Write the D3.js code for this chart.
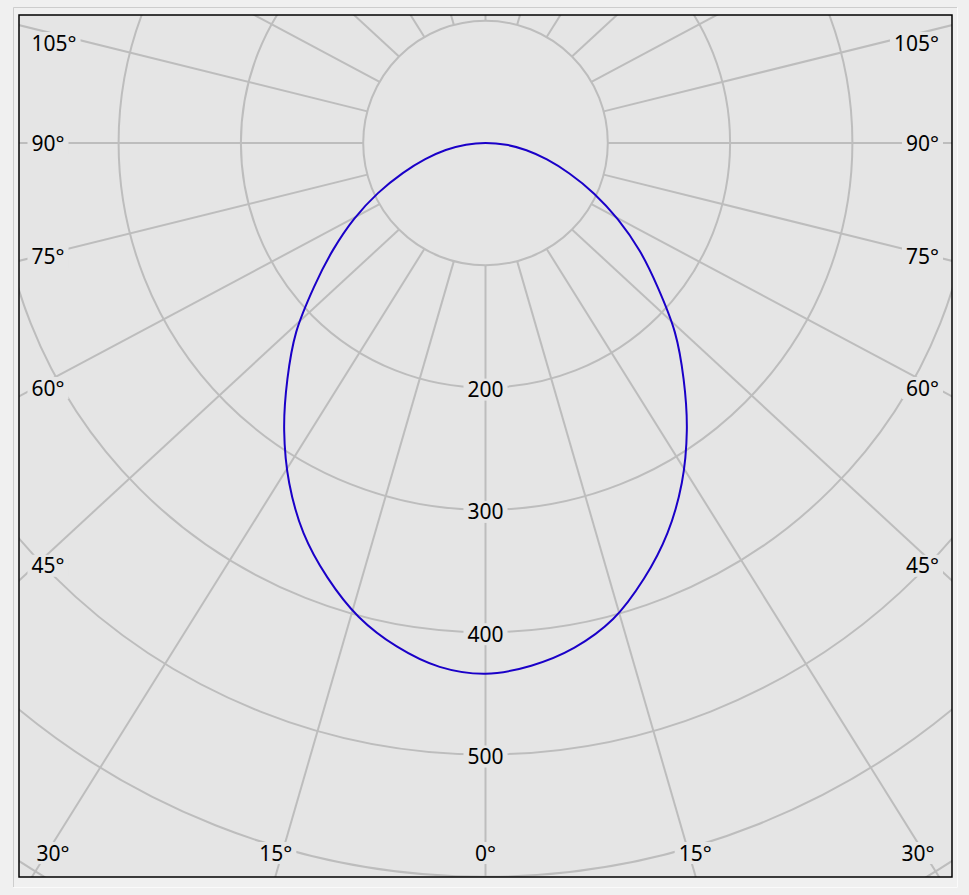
<!DOCTYPE html>
<html><head><meta charset="utf-8">
<script src="https://cdn.jsdelivr.net/npm/d3@7/dist/d3.min.js"></script>
<style>
html,body{margin:0;padding:0;background:#f0f0f0;}
svg{display:block;}
</style>
</head><body>
<svg id="chart" width="969" height="895"></svg>
<script>
// ---- data ----
const gammaAngles = [0,5,10,15,20,25,30,35,40,45,50,55,60,65,70,75,80,85,90];
const intensityLeft  = [434,430,418,401,378,352,321,287,252,219,183,152,124,97,72,51,33,16,0];
const intensityRight = [434,429,419,403,379,352,321,287,252,219,184,154,125,98,73,52,34,17,0];
const radialTicks = [100,200,300,400,500,600,700];
const radialTickLabels = [200,300,400,500];
const angleGrid = d3.range(0,360,15);
const angleTickLabels = [0,15,30,45,60,75,90,105];

// ---- layout ----
const svg = d3.select("#chart");
const frame = {x0:19, y0:15, x1:952, y1:877};
const cx = (frame.x0 + frame.x1) / 2, cy = 143;
const aspect = (frame.x1 - frame.x0) / (frame.y1 - frame.y0);
const r = d3.scaleLinear().domain([0,100]).range([0,122.3]);
const rad = d3.scaleLinear().domain([0,180]).range([0,Math.PI]);
const gridColor = "#bdbdbd", bg = "#e5e5e5";
const font = "'Noto Sans', 'Liberation Sans', sans-serif";

// outer sunken border
svg.append("line").attr("x1",13.5).attr("y1",7.5).attr("x2",957).attr("y2",7.5).attr("stroke","#cdcdcd");
svg.append("line").attr("x1",13.5).attr("y1",7.5).attr("x2",13.5).attr("y2",887).attr("stroke","#cdcdcd");
svg.append("line").attr("x1",13.5).attr("y1",887.5).attr("x2",957).attr("y2",887.5).attr("stroke","#fafafa");
svg.append("line").attr("x1",957.5).attr("y1",7.5).attr("x2",957.5).attr("y2",887.5).attr("stroke","#fafafa");

svg.append("defs").append("clipPath").attr("id","clip")
  .append("rect").attr("x",frame.x0).attr("y",frame.y0)
  .attr("width",frame.x1-frame.x0).attr("height",frame.y1-frame.y0);

svg.append("rect").attr("x",frame.x0).attr("y",frame.y0)
  .attr("width",frame.x1-frame.x0).attr("height",frame.y1-frame.y0).attr("fill",bg);

const g = svg.append("g").attr("clip-path","url(#clip)");

// radial grid lines (start at the 100 circle)
function lineGeom(a) {
  const t = rad(a);
  const p0 = [cx + r(100)*Math.sin(t), cy + r(100)*Math.cos(t)];
  let dx = aspect*Math.sin(t), dy = Math.cos(t);
  const n = Math.hypot(dx,dy); dx/=n; dy/=n;
  return {p0, dx, dy};
}
g.selectAll("line.spoke").data(angleGrid).join("line").attr("class","spoke")
  .attr("x1",a=>lineGeom(a).p0[0]).attr("y1",a=>lineGeom(a).p0[1])
  .attr("x2",a=>{const l=lineGeom(a);return l.p0[0]+2000*l.dx;})
  .attr("y2",a=>{const l=lineGeom(a);return l.p0[1]+2000*l.dy;})
  .attr("stroke",gridColor).attr("stroke-width",2);

// circles
g.selectAll("circle.ring").data(radialTicks).join("circle").attr("class","ring")
  .attr("cx",cx).attr("cy",cy).attr("r",d=>r(d))
  .attr("fill","none").attr("stroke",gridColor).attr("stroke-width",2);

// intensity curve
const pts = [];
for (let i = gammaAngles.length-1; i >= 0; i--) pts.push({s:-1, a:gammaAngles[i], v:intensityLeft[i]});
for (let i = 1; i < gammaAngles.length; i++) pts.push({s:1, a:gammaAngles[i], v:intensityRight[i]});
const line = d3.line()
  .x(d=>cx + d.s*r(d.v)*Math.sin(rad(d.a)))
  .y(d=>cy + r(d.v)*Math.cos(rad(d.a)))
  .curve(d3.curveCatmullRomClosed.alpha(0.5));
g.append("path").attr("d",line(pts.slice(0,-1))).attr("fill","none")
  .attr("stroke","#1a00c8").attr("stroke-width",2).attr("stroke-linejoin","round");

// labels with background boxes
const labels = svg.append("g");
function addLabel(x, y, text, anchor) {
  const grp = labels.append("g");
  const rect = grp.append("rect").attr("fill",bg);
  const t = grp.append("text").attr("x",x).attr("y",y).attr("dy","0.36em")
    .attr("text-anchor",anchor).attr("font-family",font).attr("font-size",21)
    .attr("fill","#000").text(text);
  const w = t.node().getComputedTextLength();
  const left = anchor==="start" ? x : anchor==="end" ? x-w : x-w/2;
  rect.attr("x",left-4).attr("y",y-11).attr("width",w+8).attr("height",22);
}

radialTickLabels.forEach(v => addLabel(cx, cy + r(v) + 2, String(v), "middle"));

angleTickLabels.forEach(a => {
  const sides = a === 0 ? [1] : [-1, 1];
  sides.forEach(s => {
    const l = lineGeom(a);
    const dx = s*l.dx, dy = l.dy, p0 = [cx + s*(l.p0[0]-cx), l.p0[1]];
    const edgeX = s < 0 ? frame.x0 : frame.x1;
    const tx = Math.abs(dx) > 1e-9 ? (edgeX - p0[0]) / dx : Infinity;
    const ty = dy > 1e-9 ? (frame.y1 - p0[1]) / dy : Infinity;
    if (tx < ty) {
      const xs = s < 0 ? frame.x0 + 16 : frame.x1 - 16;
      let y = p0[1] + (xs - p0[0]) / dx * dy;
      y = Math.max(43, Math.min(853, y));
      addLabel(s < 0 ? frame.x0 + 12.5 : frame.x1 - 13, y, a + "°", s < 0 ? "start" : "end");
    } else {
      let x = p0[0] + (875 - p0[1]) / dy * dx;
      x = Math.max(53, Math.min(918, x));
      addLabel(x, 853, a + "°", "middle");
    }
  });
});

// frame border
svg.append("rect").attr("x",frame.x0).attr("y",frame.y0)
  .attr("width",frame.x1-frame.x0).attr("height",frame.y1-frame.y0)
  .attr("fill","none").attr("stroke","#000").attr("stroke-width",1.5);
</script>
</body></html>
